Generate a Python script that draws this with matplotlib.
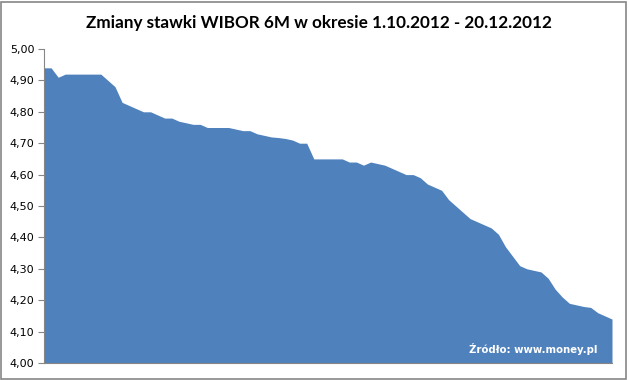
import matplotlib.pyplot as plt
import matplotlib.ticker as mticker
from matplotlib.patches import Rectangle
import numpy as np

# dzień od 1.10.2012 i odczytana stawka WIBOR 6M
dni = [0, 1, 2, 3, 8, 9, 10, 11, 12, 13, 14, 15, 16, 17, 18, 19, 20, 21, 22, 23,
       26, 27, 28, 29, 30, 31, 32, 33, 34, 35, 36, 37, 38, 42, 43, 44, 45, 46, 47, 48,
       49, 50, 51, 52, 53, 54, 55, 56, 57, 58, 59, 60, 61, 62, 63, 64, 65, 66, 67, 68,
       69, 70, 71, 72, 73, 74, 75, 76, 77, 78, 79, 80]
stawka = [4.94, 4.94, 4.91, 4.92, 4.92, 4.90, 4.88, 4.83, 4.82, 4.81, 4.80, 4.80, 4.79, 4.78, 4.78, 4.77, 4.765, 4.76, 4.76, 4.75,
          4.75, 4.745, 4.74, 4.74, 4.73, 4.725, 4.72, 4.718, 4.715, 4.71, 4.70, 4.70, 4.65, 4.65, 4.64, 4.64, 4.63, 4.64, 4.635, 4.63,
          4.62, 4.61, 4.60, 4.60, 4.59, 4.57, 4.56, 4.55, 4.52, 4.50, 4.48, 4.46, 4.45, 4.44, 4.43, 4.41, 4.37, 4.34, 4.31, 4.30,
          4.295, 4.29, 4.27, 4.235, 4.21, 4.19, 4.185, 4.18, 4.177, 4.16, 4.15, 4.14]
y_ticks = np.round(np.arange(4.0, 5.001, 0.1), 2)

daty = np.datetime64('2012-10-01') + np.array(dni).astype('timedelta64[D]')
daty = daty.astype('datetime64[s]').astype(object)

fig = plt.figure(figsize=(6.29, 3.80), dpi=100)
ax = fig.add_axes([44 / 629, 1 - 363 / 380, (612 - 44) / 629, (363 - 49) / 380])

ax.fill_between(daty, stawka, 4.0, color='#4F81BD', linewidth=0)
ax.set_xlim(daty[0], daty[-1])
ax.set_ylim(4.0, 5.0)

ax.set_yticks(y_ticks)
ax.yaxis.set_major_formatter(mticker.FuncFormatter(lambda v, p: f'{v:.2f}'.replace('.', ',')))
ax.tick_params(axis='y', direction='out', length=4, width=0.8, color='#868686',
               labelsize=8, labelcolor='#000000', pad=3)
ax.set_xticks([])

for s in ['top', 'right']:
    ax.spines[s].set_visible(False)
ax.spines['left'].set_color('#868686')
ax.spines['bottom'].set_color('#868686')

fig.text(0.5 + 4 / 629, 1 - 23 / 380, 'Zmiany stawki WIBOR 6M w okresie 1.10.2012 - 20.12.2012',
         ha='center', va='center', fontsize=12.3, fontweight='bold', family='Lato')
ax.text(0.974, 0.045, 'Źródło: www.money.pl', transform=ax.transAxes, ha='right', va='center',
        fontsize=7.3, fontweight='bold', color='white')

# ramka wokół całego wykresu
fig.patches.append(Rectangle((0.002, 0.003), 0.994, 0.993, transform=fig.transFigure,
                             fill=False, edgecolor='#868686', linewidth=1.2))

fig.savefig('out.png', dpi=100)
